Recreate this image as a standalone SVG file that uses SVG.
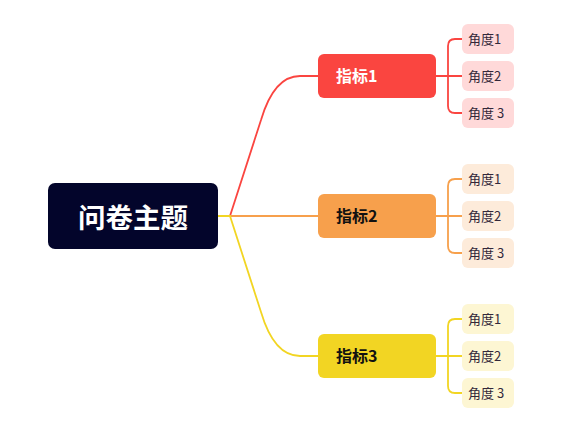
<svg xmlns="http://www.w3.org/2000/svg" width="588" height="426" viewBox="0 0 588 426">
<style>
text{font-family:"Noto Sans CJK SC","Noto Sans",sans-serif}
.root{font-size:27.5px;font-weight:bold;fill:#fff}
.l1{font-size:16px;font-weight:bold}
.l2{font-size:13px;fill:#33283a}
.c{fill:none;stroke-width:1.8;stroke-linecap:round;stroke-linejoin:round}
.r{stroke:#FA4540}.o{stroke:#F7A04C}.y{stroke:#F2D523}
</style>
<rect width="588" height="426" fill="#fff"/>
<g id="connectors">
<path class="c r" d="M218,216 H230 L261,120 Q274,76 300,76 H318"/>
<path class="c o" d="M218,216 H318"/>
<path class="c y" d="M218,216 H230 L261,312 Q274,356 300,356 H318"/>
<path class="c r" d="M436,76 H462 M462,39 H455 Q448,39 448,46 V106 Q448,113 455,113 H462"/>
<path class="c o" d="M436,216 H462 M462,179 H455 Q448,179 448,186 V246 Q448,253 455,253 H462"/>
<path class="c y" d="M436,356 H462 M462,319 H455 Q448,319 448,326 V386 Q448,393 455,393 H462"/>
</g>
<g id="root"><rect x="48" y="183" width="170" height="66" rx="7" fill="#03052B"/><text class="root" x="133" y="228" text-anchor="middle">问卷主题</text></g>
<g id="n1"><rect x="318" y="54" width="118" height="44" rx="6" fill="#FA4540"/><text class="l1" x="336" y="82" fill="#fff">指标1</text></g>
<g id="n2"><rect x="318" y="194" width="118" height="44" rx="6" fill="#F7A04C"/><text class="l1" x="336" y="222" fill="#111">指标2</text></g>
<g id="n3"><rect x="318" y="334" width="118" height="44" rx="6" fill="#F2D523"/><text class="l1" x="336" y="362" fill="#111">指标3</text></g>
<g id="n1a"><rect x="462" y="24" width="52" height="30" rx="6" fill="#FFD9D9"/><text class="l2" x="468" y="43.5">角度1</text></g>
<g id="n1b"><rect x="462" y="61" width="52" height="30" rx="6" fill="#FFD9D9"/><text class="l2" x="468" y="80.5">角度2</text></g>
<g id="n1c"><rect x="462" y="98" width="52" height="30" rx="6" fill="#FFD9D9"/><text class="l2" x="468" y="117.5">角度 3</text></g>
<g id="n2a"><rect x="462" y="164" width="52" height="30" rx="6" fill="#FDEBDA"/><text class="l2" x="468" y="183.5">角度1</text></g>
<g id="n2b"><rect x="462" y="201" width="52" height="30" rx="6" fill="#FDEBDA"/><text class="l2" x="468" y="220.5">角度2</text></g>
<g id="n2c"><rect x="462" y="238" width="52" height="30" rx="6" fill="#FDEBDA"/><text class="l2" x="468" y="257.5">角度 3</text></g>
<g id="n3a"><rect x="462" y="304" width="52" height="30" rx="6" fill="#FDF6D3"/><text class="l2" x="468" y="323.5">角度1</text></g>
<g id="n3b"><rect x="462" y="341" width="52" height="30" rx="6" fill="#FDF6D3"/><text class="l2" x="468" y="360.5">角度2</text></g>
<g id="n3c"><rect x="462" y="378" width="52" height="30" rx="6" fill="#FDF6D3"/><text class="l2" x="468" y="397.5">角度 3</text></g>
</svg>
